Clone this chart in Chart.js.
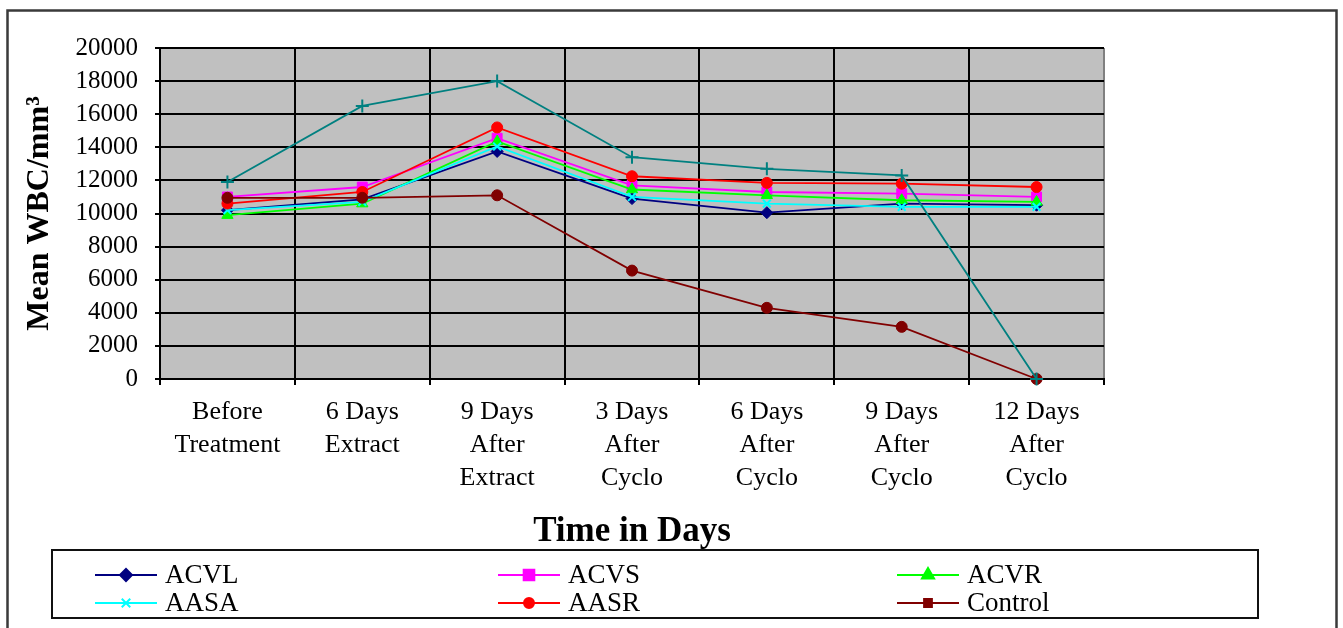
<!DOCTYPE html>
<html>
<head>
<meta charset="utf-8">
<script src="https://cdn.jsdelivr.net/npm/chart.js@4.4.1/dist/chart.umd.min.js"></script>
<style>
  html, body { margin: 0; padding: 0; background: #ffffff; }
  canvas { display: block; }
</style>
</head>
<body>
<canvas id="wbc" width="1343" height="628"></canvas>
<script>
// Sampling points along the treatment timeline
const categories = [
  ['Before', 'Treatment'],
  ['6 Days', 'Extract'],
  ['9 Days', 'After', 'Extract'],
  ['3 Days', 'After', 'Cyclo'],
  ['6 Days', 'After', 'Cyclo'],
  ['9 Days', 'After', 'Cyclo'],
  ['12 Days', 'After', 'Cyclo']
];

// Mean WBC per mm3 for each group
const acvl    = [10200, 10850, 13750, 10900, 10050, 10600, 10500];
const acvs    = [11000, 11600, 14550, 11700, 11300, 11200, 11000];
const acvr    = [9900, 10600, 14350, 11450, 11100, 10800, 10700];
const aasa    = [10200, 10700, 14050, 11000, 10600, 10400, 10400];
const aasr    = [10600, 11300, 15200, 12250, 11850, 11800, 11600];
const control = [10950, 10950, 11100, 6550, 4300, 3150, 0];
const series7 = [11900, 16500, 18000, 13400, 12700, 12300, 0];

// Value axis
const yMin = 0;
const yMax = 20000;
const yStep = 2000;

const SERIF = "'Liberation Serif', 'Times New Roman', Times, serif";

function makeSet(label, data, color, style, radius, legendStyle, legendRadius, idx, inLegend) {
  const crossLike = style === 'cross' || style === 'crossRot';
  return {
    label: label,
    data: data,
    borderColor: color,
    backgroundColor: color,
    borderWidth: 1.8,
    pointStyle: style,
    pointRadius: radius,
    pointHoverRadius: radius,
    pointBackgroundColor: color,
    pointBorderColor: color,
    pointBorderWidth: crossLike ? 2 : 1,
    tension: 0,
    clip: false,
    order: 20 - idx,          // later series are drawn on top
    legendStyle: legendStyle,
    legendRadius: legendRadius,
    inLegend: inLegend
  };
}

const datasets = [
  makeSet('ACVL',    acvl,    '#000080', 'rectRot',  6,   'rectRot',  6,   0, true),
  makeSet('ACVS',    acvs,    '#FF00FF', 'rect',     7,   'rect',     7.5, 1, true),
  makeSet('ACVR',    acvr,    '#00FF00', 'triangle', 6.5, 'triangle', 7,   2, true),
  makeSet('AASA',    aasa,    '#00FFFF', 'crossRot', 5.5, 'crossRot', 6,   3, true),
  makeSet('AASR',    aasr,    '#FF0000', 'circle',   5.5, 'circle',   5,   4, true),
  makeSet('Control', control, '#800000', 'circle',   5.5, 'rect',     5.5, 5, true),
  makeSet('Series7', series7, '#008080', 'cross',    6.5, 'cross',    6,   6, false)
];

// Grey plot-area fill under the grid
const plotFill = {
  id: 'plotFill',
  beforeDraw(chart) {
    const a = chart.chartArea;
    const ctx = chart.ctx;
    ctx.save();
    ctx.fillStyle = '#C0C0C0';
    ctx.fillRect(a.left, a.top, a.right - a.left, a.bottom - a.top);
    ctx.restore();
  }
};

// Outer frame and the boxed three-column legend
const frameAndLegend = {
  id: 'frameAndLegend',
  afterDraw(chart) {
    const ctx = chart.ctx;
    ctx.save();
    // outer frame
    ctx.strokeStyle = '#3a3a3a';
    ctx.lineWidth = 2.5;
    ctx.strokeRect(7.5, 10.5, 1329, 640);

    // legend box
    ctx.strokeStyle = '#111111';
    ctx.lineWidth = 2;
    ctx.strokeRect(52, 550, 1206, 68);

    const colX = [95, 498, 897];
    const rowY = [575, 603];
    const lineLen = 62;
    const drawPoint = Chart.helpers && Chart.helpers.drawPoint;
    let n = 0;
    chart.data.datasets.forEach(ds => {
      if (!ds.inLegend) return;
      const col = n % 3, row = Math.floor(n / 3);
      n++;
      const x0 = colX[col], y = rowY[row];
      ctx.strokeStyle = ds.borderColor;
      ctx.fillStyle = ds.borderColor;
      ctx.lineWidth = 2;
      ctx.beginPath();
      ctx.moveTo(x0, y);
      ctx.lineTo(x0 + lineLen, y);
      ctx.stroke();
      const cx = x0 + lineLen / 2;
      const crossLike = ds.legendStyle === 'cross' || ds.legendStyle === 'crossRot';
      if (drawPoint) {
        drawPoint(ctx, {
          pointStyle: ds.legendStyle,
          radius: ds.legendRadius,
          rotation: 0,
          borderWidth: crossLike ? 2 : 1
        }, cx, y);
      } else {
        ctx.beginPath();
        ctx.arc(cx, y, ds.legendRadius, 0, Math.PI * 2);
        ctx.fill();
      }
      ctx.fillStyle = '#000000';
      ctx.font = '27px ' + SERIF;
      ctx.textBaseline = 'middle';
      ctx.textAlign = 'left';
      ctx.fillText(ds.label, x0 + lineLen + 8, y + 1);
    });
    ctx.restore();
  }
};

new Chart(document.getElementById('wbc'), {
  type: 'line',
  data: { labels: categories, datasets: datasets },
  options: {
    responsive: false,
    animation: false,
    devicePixelRatio: 1,
    layout: { padding: { left: 0, top: 48, right: 239, bottom: 79 } },
    plugins: {
      legend: { display: false },
      tooltip: { enabled: false }
    },
    scales: {
      x: {
        type: 'category',
        offset: true,
        grid: {
          offset: true,
          color: ctx => (ctx.type === 'tick' ? '#000000' : '#808080'),
          lineWidth: 2,
          tickLength: 6,
          tickColor: '#000000'
        },
        border: { color: '#000000', width: 2 },
        ticks: {
          color: '#000000',
          font: { family: SERIF, size: 26, lineHeight: 1.27 },
          padding: 11,
          maxRotation: 0,
          autoSkip: false
        },
        title: {
          display: true,
          text: 'Time in Days',
          color: '#000000',
          font: { family: SERIF, size: 35, weight: 'bold', lineHeight: 1 },
          padding: { top: 0, bottom: 0 }
        },
        afterFit(scale) { scale.height = 170; }
      },
      y: {
        min: yMin,
        max: yMax,
        grid: { color: '#000000', lineWidth: 2, tickLength: 5 },
        border: { color: '#000000', width: 2 },
        ticks: {
          stepSize: yStep,
          color: '#000000',
          font: { family: SERIF, size: 25 },
          padding: 17,
          callback: v => String(v)
        },
        title: {
          display: true,
          text: 'Mean WBC/mm\u00B3',
          color: '#000000',
          font: { family: SERIF, size: 32, weight: 'bold', lineHeight: 1 },
          padding: { top: 24, bottom: 0 }
        },
        afterFit(scale) { scale.width = 160; }
      }
    }
  },
  plugins: [plotFill, frameAndLegend]
});
</script>
</body>
</html>
